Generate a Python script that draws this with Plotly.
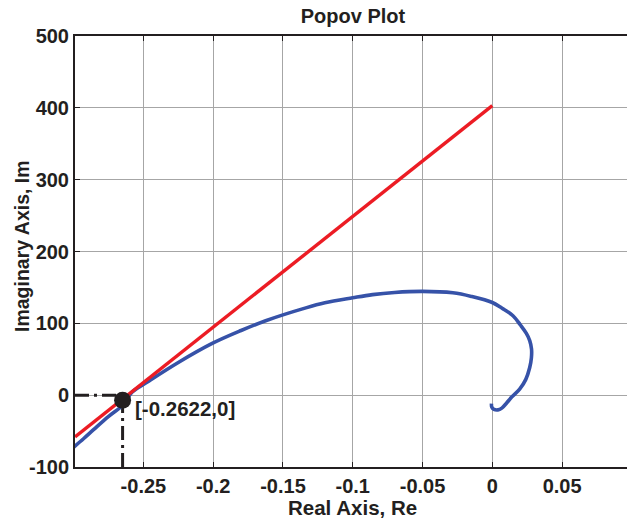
import plotly.graph_objects as go

# ---- data ----
popov_re = [-0.0006, -0.0004, 0.0012, 0.0040, 0.0068, 0.0100, 0.0137, 0.0196, 0.0240,
            0.0268, 0.0280, 0.0281, 0.0268, 0.0244, 0.0200, 0.0148, 0.0070, 0.0000,
            -0.0150, -0.0283, -0.0499, -0.0700, -0.0858, -0.1001, -0.1200, -0.1336,
            -0.1624, -0.1800, -0.2007, -0.2250, -0.2462, -0.2582, -0.2641, -0.2749,
            -0.2855, -0.2927, -0.2999]
popov_im = [-11.7, -16.5, -19.8, -20.5, -18.0, -11.5, -3.0, 8.4, 22.0,
            38.5, 52.0, 64.0, 76.0, 86.0, 98.0, 110.6, 121.0, 129.0,
            137.5, 142.5, 144.5, 143.0, 140.0, 135.5, 128.5, 121.5,
            103.6, 90.0, 72.0, 45.5, 19.5, 4.0, -12.8, -29.6,
            -47.7, -60.3, -72.4]

popov_line_re = [-0.299, 0.0]
popov_line_im = [-58.0, 403.0]

cross_re = [-0.2649]
cross_im = [-7.0]
cross_label = "[-0.2622,0]"

guide_h_re = [-0.299, -0.2649]
guide_h_im = [0.0, 0.0]
guide_v_re = [-0.2649, -0.2649]
guide_v_im = [-100.0, 0.0]

x_tickvals = [-0.25, -0.2, -0.15, -0.1, -0.05, 0.0, 0.05]
x_ticktext = ["-0.25", "-0.2", "-0.15", "-0.1", "-0.05", "0", "0.05"]
y_tickvals = [-100, 0, 100, 200, 300, 400, 500]
y_ticktext = ["-100", "0", "100", "200", "300", "400", "500"]

title_text = "Popov Plot"
x_title = "Real Axis, Re"
y_title = "Imaginary Axis, Im"

# ---- figure ----
FONT = "Liberation Sans, Arial, Helvetica, sans-serif"
INK = "#231f20"

fig = go.Figure()

fig.add_trace(go.Scatter(x=guide_h_re, y=guide_h_im, mode="lines",
                         line=dict(color=INK, width=3, dash="14px,5px,3px,5px"),
                         showlegend=False, hoverinfo="skip"))
fig.add_trace(go.Scatter(x=guide_v_re, y=guide_v_im, mode="lines",
                         line=dict(color=INK, width=3, dash="14px,5px,3px,5px"),
                         showlegend=False, hoverinfo="skip"))
fig.add_trace(go.Scatter(x=popov_re, y=popov_im, mode="lines",
                         line=dict(color="#3652a8", width=3.6, shape="spline", smoothing=1.0),
                         showlegend=False))
fig.add_trace(go.Scatter(x=popov_line_re, y=popov_line_im, mode="lines",
                         line=dict(color="#ec1c24", width=3.4),
                         showlegend=False))
fig.add_trace(go.Scatter(x=cross_re, y=cross_im, mode="markers",
                         marker=dict(color=INK, size=17),
                         showlegend=False))

W, H = 627, 521
L, R, T, B = 75, 0, 36, 521 - 467
pw, ph = W - L - R, H - T - B

def px_to_paper_y(py):
    return (T + ph - py) / ph

fig.update_layout(
    width=W, height=H,
    margin=dict(l=L, r=R, t=T, b=B, autoexpand=False),
    paper_bgcolor="white", plot_bgcolor="white",
    font=dict(family=FONT, color=INK, size=19),
    title=dict(text=title_text, xref="container", x=353 / W, xanchor="center",
               yref="container", y=1 - 16 / H, yanchor="middle",
               font=dict(family=FONT, size=20, color=INK, weight="bold")),
    showlegend=False,
)

fig.update_xaxes(
    range=[-0.299, 0.0965],
    tickvals=x_tickvals, ticktext=x_ticktext,
    tickfont=dict(family=FONT, size=20, color=INK, weight="bold"),
    ticks="inside", ticklen=5, tickwidth=1, tickcolor=INK,
    showline=True, linewidth=2, linecolor=INK, mirror="ticks",
    showgrid=True, gridcolor="#a6a6a6", gridwidth=1,
    zeroline=False,
)
fig.update_yaxes(
    range=[-100, 500],
    tickvals=y_tickvals, ticktext=y_ticktext,
    tickfont=dict(family=FONT, size=20, color=INK, weight="bold"),
    ticks="inside", ticklen=5, tickwidth=1, tickcolor=INK,
    showline=True, linewidth=2, linecolor=INK, mirror=False,
    showgrid=True, gridcolor="#a6a6a6", gridwidth=1,
    zeroline=False,
)

fig.add_annotation(text=x_title, xref="x", x=-0.1, yref="paper", y=px_to_paper_y(507),
                   xanchor="center", yanchor="middle", showarrow=False,
                   font=dict(family=FONT, size=20.5, color=INK, weight="bold"))
fig.add_annotation(text=y_title, xref="paper", x=(22 - L) / pw, yref="paper",
                   y=px_to_paper_y(246), textangle=-90,
                   xanchor="center", yanchor="middle", showarrow=False,
                   font=dict(family=FONT, size=19.5, color=INK, weight="bold"))
fig.add_annotation(text=cross_label, xref="x", x=-0.2575, yref="y", y=-19,
                   xanchor="left", yanchor="middle", showarrow=False,
                   font=dict(family=FONT, size=20.5, color=INK, weight="bold"))

fig.write_html("out.html",
               config={"displayModeBar": False},
               post_script="document.body.style.margin='0';document.body.style.padding='0';")
